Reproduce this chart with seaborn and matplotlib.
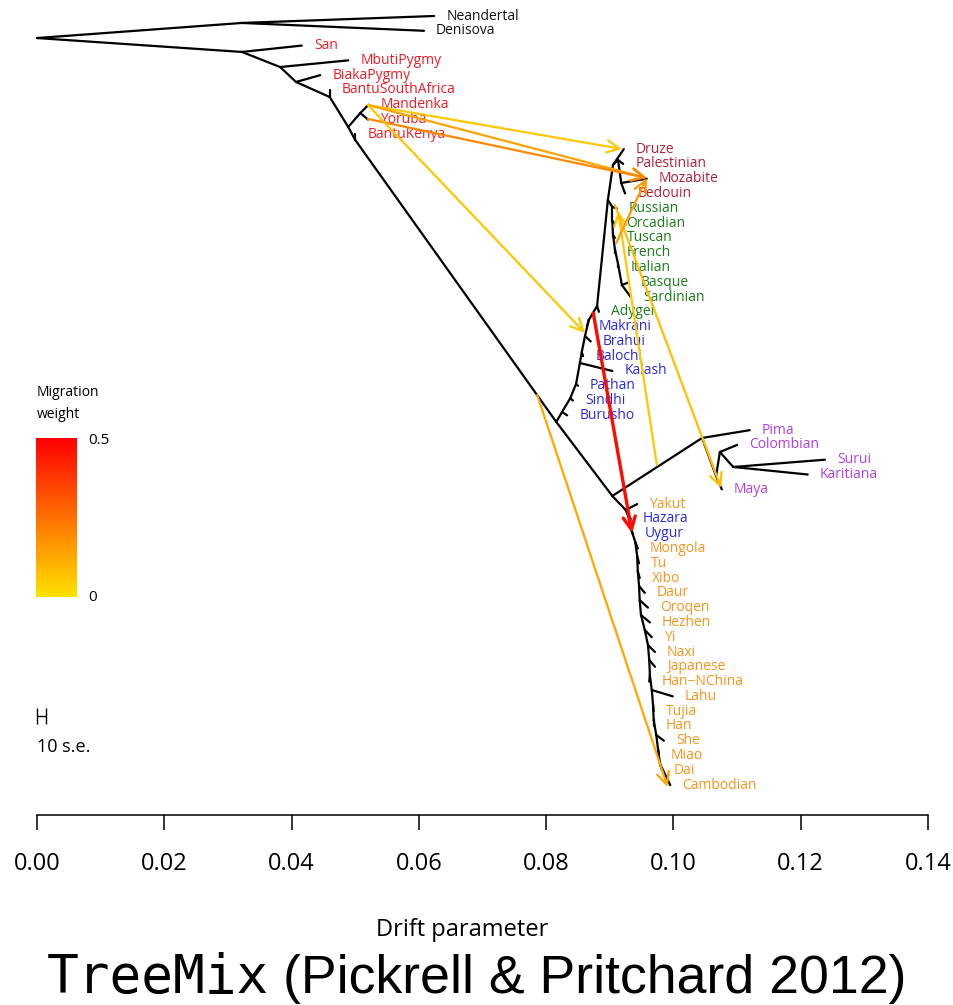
import numpy as np
import pandas as pd
import matplotlib
matplotlib.use("Agg")
import matplotlib.pyplot as plt
import seaborn as sns
from matplotlib.colors import LinearSegmentedColormap, hsv_to_rgb, Normalize

# ---------------- data ----------------
# sampled populations, listed top to bottom (y position = list index)
tip_names = ["Neandertal", "Denisova", "San", "MbutiPygmy", "BiakaPygmy",
             "BantuSouthAfrica", "Mandenka", "Yoruba", "BantuKenya",
             "Druze", "Palestinian", "Mozabite", "Bedouin",
             "Russian", "Orcadian", "Tuscan", "French", "Italian", "Basque",
             "Sardinian", "Adygei",
             "Makrani", "Brahui", "Balochi", "Kalash", "Pathan", "Sindhi", "Burusho",
             "Pima", "Colombian", "Surui", "Karitiana", "Maya",
             "Yakut", "Hazara", "Uygur", "Mongola", "Tu", "Xibo", "Daur", "Oroqen",
             "Hezhen", "Yi", "Naxi", "Japanese", "Han\u2212NChina", "Lahu", "Tujia",
             "Han", "She", "Miao", "Dai", "Cambodian"]
# drift of each population from the root
tip_drift = [0.0624, 0.0608, 0.0416, 0.0489, 0.0445,
             0.0460, 0.0521, 0.0520, 0.0500,
             0.0922, 0.0921, 0.0958, 0.0924,
             0.0911, 0.0907, 0.0908, 0.0908, 0.0913, 0.0930,
             0.0933, 0.0883,
             0.0864, 0.0870, 0.0858, 0.0904, 0.0850, 0.0842, 0.0833,
             0.1120, 0.1100, 0.1238, 0.1211, 0.1076,
             0.0943, 0.0933, 0.0936, 0.0944, 0.0946, 0.0947, 0.0955, 0.0960,
             0.0963, 0.0966, 0.0971, 0.0971, 0.0962, 0.0999, 0.0969,
             0.0969, 0.0985, 0.0977, 0.0982, 0.0995]
tip_region = (["archaic"] * 2 + ["africa"] * 7 + ["mideast"] * 4 + ["europe"] * 8 +
              ["southasia"] * 7 + ["america"] * 5 + ["eastasia"] +
              ["southasia"] * 2 + ["eastasia"] * 17)

# internal nodes of the graph
node_names = ["root", "arch", "afr0", "afr1", "afr2", "afr3", "afr4", "afr5", "afr6",
              "ooa", "eas0",
              "c1", "c2", "c3", "c4", "c5", "c6", "c7", "c8",
              "eu0", "me0", "me1", "me2",
              "eu1", "eu2", "eu3", "eu4", "eu5", "eu6",
              "e1", "e2", "e3", "e4", "e5", "e6", "e7", "e8", "e9", "e10",
              "e11", "e12", "e13", "e14", "e15", "e16", "e17", "e18", "e19",
              "am0", "am1", "am2", "am3"]
node_drift = [0.0, 0.0322, 0.0322, 0.0382, 0.0407, 0.0460, 0.0489, 0.0508, 0.0500,
              0.0816, 0.0904,
              0.0825, 0.0838, 0.0847, 0.0853, 0.0856, 0.0861, 0.0867, 0.0880,
              0.0897, 0.0905, 0.0913, 0.0918,
              0.0904, 0.0904, 0.0905, 0.0908, 0.0913, 0.0919,
              0.0925, 0.0929, 0.0933, 0.0940, 0.0943, 0.0944, 0.0946, 0.0947, 0.0949, 0.0955,
              0.0960, 0.0962, 0.0963, 0.0966, 0.0968, 0.0969, 0.0973, 0.0976, 0.0979,
              0.1045, 0.1067, 0.1073, 0.1094]
node_ypos = [1.49, 0.47, 2.43, 3.45, 4.46, 5.48, 7.50, 6.56, 8.38,
             27.45, 32.45,
             26.77, 25.83, 24.88, 23.46, 22.72, 21.64, 20.55, 19.61,
             12.44, 10.07, 9.74, 11.29,
             12.91, 13.86, 14.81, 15.75, 16.77, 18.19,
             33.40, 33.81, 34.62, 35.56, 36.51, 37.53, 38.54, 39.49, 40.50, 41.51,
             42.53, 43.54, 44.56, 45.57, 46.59, 47.60, 48.61, 49.63, 50.57,
             28.53, 31.10, 29.48, 30.49]

# tree edges (parent -> child)
edge_parent = ["root", "arch", "arch", "root", "afr0", "afr0", "afr1", "afr1", "afr2", "afr2",
               "afr3", "afr3", "afr4", "afr5", "afr5", "afr4", "afr6", "afr6",
               "ooa", "ooa",
               "c1", "c1", "c2", "c2", "c3", "c3", "c4", "c4", "c5", "c5", "c6", "c6",
               "c7", "c7", "c8", "c8",
               "eu0", "eu0", "me0", "me0", "me1", "me1", "me2", "me2",
               "eu1", "eu1", "eu2", "eu2", "eu3", "eu3", "eu4", "eu4", "eu5", "eu5",
               "eu6", "eu6",
               "eas0", "eas0",
               "e1", "e1", "e2", "e2", "e3", "e3", "e4", "e4", "e5", "e5", "e6", "e6",
               "e7", "e7", "e8", "e8", "e9", "e9", "e10", "e10", "e11", "e11",
               "e12", "e12", "e13", "e13", "e14", "e14", "e15", "e15", "e16", "e16",
               "e17", "e17", "e18", "e18", "e19", "e19",
               "am0", "am0", "am1", "am1", "am2", "am2", "am3", "am3"]
edge_child = ["arch", "Neandertal", "Denisova", "afr0", "San", "afr1", "MbutiPygmy", "afr2",
              "BiakaPygmy", "afr3", "BantuSouthAfrica", "afr4", "afr5", "Mandenka", "Yoruba",
              "afr6", "BantuKenya", "ooa",
              "c1", "eas0",
              "Burusho", "c2", "Sindhi", "c3", "Pathan", "c4", "Kalash", "c5", "Balochi", "c6",
              "Brahui", "c7", "Makrani", "c8", "Adygei", "eu0",
              "me0", "eu1", "Druze", "me1", "Palestinian", "me2", "Mozabite", "Bedouin",
              "Russian", "eu2", "Orcadian", "eu3", "Tuscan", "eu4", "French", "eu5",
              "Italian", "eu6", "Basque", "Sardinian",
              "e1", "am0",
              "Yakut", "e2", "Hazara", "e3", "Uygur", "e4", "Mongola", "e5", "Tu", "e6",
              "Xibo", "e7", "Daur", "e8", "Oroqen", "e9", "Hezhen", "e10", "Yi", "e11",
              "Naxi", "e12", "Japanese", "e13", "Han\u2212NChina", "e14", "Lahu", "e15",
              "Tujia", "e16", "Han", "e17", "She", "e18", "Miao", "e19", "Dai", "Cambodian",
              "Pima", "am1", "Maya", "am2", "Colombian", "am3", "Surui", "Karitiana"]

# migration events: start point, end point (drift, position) and weight
mig_x0 = [0.0520, 0.0520, 0.0520, 0.0520, 0.0786, 0.0874, 0.0974, 0.0908, 0.0910]
mig_y0 = [6.02, 6.02, 6.96, 6.02, 25.63, 20.08, 30.36, 12.78, 15.35]
mig_x1 = [0.0919, 0.0958, 0.0958, 0.0861, 0.0991, 0.0935, 0.0913, 0.1075, 0.0958]
mig_y1 = [8.99, 10.95, 10.95, 21.43, 52.13, 34.96, 13.18, 31.91, 10.95]
mig_w = [0.06, 0.14, 0.20, 0.06, 0.13, 0.48, 0.06, 0.08, 0.16]

region_colors = {"archaic": "#111111", "africa": "#ee1c25", "mideast": "#b3203c",
                 "europe": "#1b7d1b", "southasia": "#2b2bdc", "america": "#b13fe0",
                 "eastasia": "#f7941d"}

# ---------------- figure ----------------
sns.set_theme(style="white")
plt.rcParams["font.family"] = ["Open Sans", "DejaVu Sans"]
plt.rcParams["text.color"] = "black"
plt.rcParams["axes.labelcolor"] = "black"
plt.rcParams["xtick.color"] = "black"

W, H = 954, 1005
fig = plt.figure(figsize=(W / 100, H / 100), dpi=100)
ax = fig.add_axes([37 / W, 1 - 815 / H, 891 / W, 799 / H])

pos = {n: (d, float(i)) for i, (n, d) in enumerate(zip(tip_names, tip_drift))}
pos.update({n: (d, y) for n, d, y in zip(node_names, node_drift, node_ypos)})

rows = []
for k, (p, c) in enumerate(zip(edge_parent, edge_child)):
    rows.append({"edge": k, "drift": pos[p][0], "ypos": pos[p][1]})
    rows.append({"edge": k, "drift": pos[c][0], "ypos": pos[c][1]})
edges = pd.DataFrame(rows)

sns.lineplot(data=edges, x="drift", y="ypos", units="edge", estimator=None, sort=False,
             color="black", linewidth=1.6, ax=ax, legend=False)
for ln in ax.lines:
    ln.set_clip_on(False)

# population labels
for i, (name, d, reg) in enumerate(zip(tip_names, tip_drift, tip_region)):
    ax.text(d + 0.0019, i, name, color=region_colors[reg], fontsize=10,
            va="center", ha="left", clip_on=False)

# migration weight colour scale (yellow -> red)
hues = np.linspace(0.1475, 0.0, 101)
cmap = LinearSegmentedColormap.from_list(
    "migr", hsv_to_rgb(np.column_stack([hues, np.ones_like(hues), np.ones_like(hues)])))
norm = Normalize(0, 0.5)

for x0, y0, x1, y1, w in zip(mig_x0, mig_y0, mig_x1, mig_y1, mig_w):
    ax.annotate("", xy=(x1, y1), xytext=(x0, y0),
                arrowprops=dict(arrowstyle="->,head_length=0.45,head_width=0.22",
                                color=cmap(norm(w)), lw=2.4 if w > 0.3 else 1.6,
                                shrinkA=0, shrinkB=0, mutation_scale=20),
                annotation_clip=False)

# 10 standard-error scale bar
se_x0, se_len, se_y = 0.0, 0.0014, 47.33
ax.errorbar([se_x0 + se_len / 2], [se_y], xerr=[se_len / 2], color="black",
            capsize=5.5, elinewidth=1.0, capthick=1.0, clip_on=False)
ax.text(0.0, 49.4, "10 s.e.", fontsize=13, va="center", ha="left", color="black")

ax.set_xlim(0, 0.14)
ax.set_ylim(54.02, 0)
ax.set_xticks(np.arange(0, 0.141, 0.02))
ax.set_xticklabels([f"{t:.2f}" for t in np.arange(0, 0.141, 0.02)])
ax.set_yticks([])
ax.set_xlabel("")
ax.set_ylabel("")
sns.despine(ax=ax, left=True, top=True, right=True)
ax.spines["bottom"].set_linewidth(1.1)
ax.spines["bottom"].set_color("black")
ax.tick_params(axis="x", direction="out", length=10.8, width=1.1, pad=16,
               labelsize=17, colors="black", bottom=True)
ax.patch.set_alpha(0)

fig.text(462 / W, 1 - 930 / H, "Drift parameter", fontsize=17, ha="center", va="center",
         color="black")

# legend for migration weight
fig.text(37 / W, 1 - 392 / H, "Migration", fontsize=10, va="center", color="black")
fig.text(37 / W, 1 - 414 / H, "weight", fontsize=10, va="center", color="black")
cax = fig.add_axes([36 / W, 1 - 597 / H, 41 / W, 159 / H])
cax.imshow(np.linspace(0, 0.5, 256).reshape(-1, 1), cmap=cmap, norm=norm,
           aspect="auto", origin="lower")
cax.axis("off")
fig.text(88 / W, 1 - 441 / H, "0.5", fontsize=11, va="center", color="black")
fig.text(88 / W, 1 - 597 / H, "0", fontsize=11, va="center", color="black")

# title
fig.text(47 / W, 1 - 993 / H, "TreeMix", family="DejaVu Sans Mono", fontsize=38,
         va="baseline", ha="left", color="black")
fig.text(283 / W, 1 - 993 / H, "(Pickrell & Pritchard 2012)", family="Liberation Sans",
         fontsize=38.6, va="baseline", ha="left", color="black")

fig.savefig("out.png", dpi=100)
